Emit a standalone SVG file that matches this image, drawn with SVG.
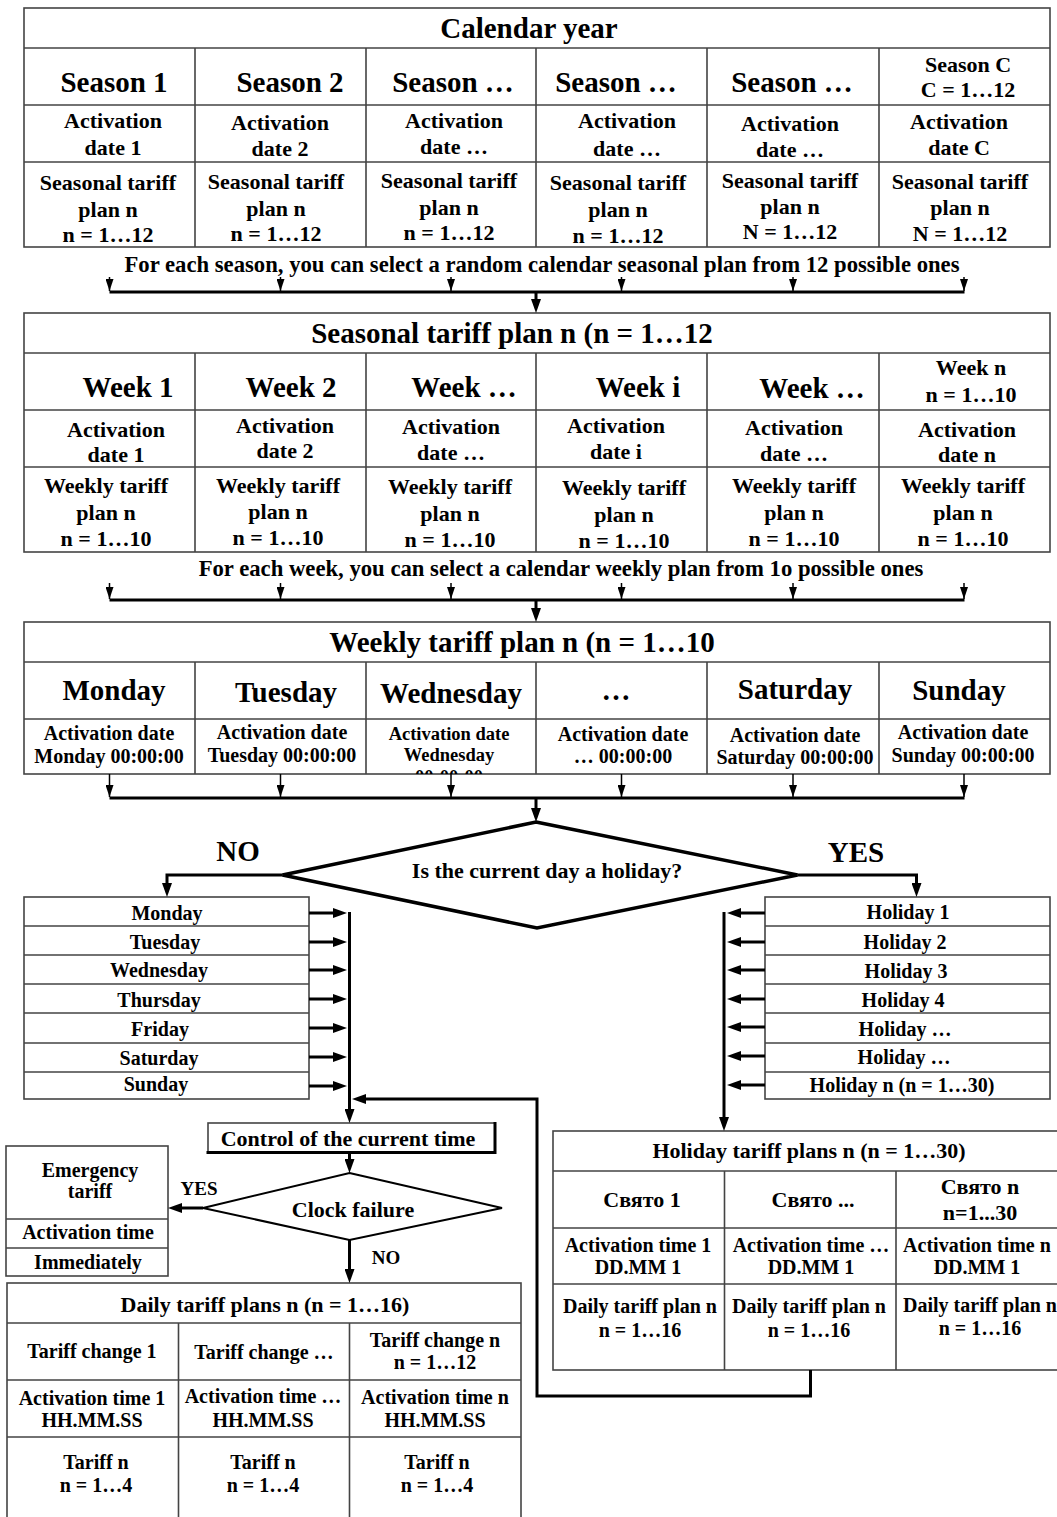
<svg xmlns="http://www.w3.org/2000/svg" width="1057" height="1517" viewBox="0 0 1057 1517">
<style>
.t{font-family:"Liberation Serif","Times New Roman",serif;font-weight:bold;fill:#000;text-anchor:middle}
.f29{font-size:29px}.f22{font-size:22px}.f227{font-size:22.7px}.f20{font-size:20px}.f19{font-size:19px}.f18{font-size:18.5px}
.box{fill:#fff;stroke:#444;stroke-width:1.6}
.ln{stroke:#444;stroke-width:1.6;fill:none}
.conn{stroke:#000;stroke-width:3;fill:none}
.thin{stroke:#000;stroke-width:1.5;fill:none}
.dia{fill:#fff;stroke:#000}
</style>
<defs>
<marker id="sm" markerUnits="userSpaceOnUse" markerWidth="12" markerHeight="8" refX="12" refY="4" orient="auto"><path d="M0,0 L12,4 L0,8 z" fill="#000"/></marker>
<marker id="lg" markerUnits="userSpaceOnUse" markerWidth="14" markerHeight="10" refX="7" refY="5" orient="auto"><path d="M0,0 L14,5 L0,10 z" fill="#000"/></marker>
<clipPath id="wedclip"><rect x="366" y="719" width="170" height="55"/></clipPath>
</defs>

<g id="calendar-year">
<rect class="box" x="24" y="8" width="1026" height="239"/>
<path class="ln" d="M24,48H1050M24,105H1050M24,162H1050M195,48V247M366,48V247M536,48V247M707,48V247M879,48V247"/>
<text class="t f29" x="529" y="38">Calendar year</text>
<text class="t f29" x="114" y="92">Season 1</text>
<text class="t f29" x="290" y="92">Season 2</text>
<text class="t f29" x="453" y="92">Season …</text>
<text class="t f29" x="616" y="92">Season …</text>
<text class="t f29" x="792" y="92">Season …</text>
<text class="t f22" x="968" y="72">Season C</text>
<text class="t f22" x="968" y="97">C = 1…12</text>
<text class="t f22" x="113" y="128">Activation</text><text class="t f22" x="113" y="155">date 1</text>
<text class="t f22" x="280" y="130">Activation</text><text class="t f22" x="280" y="156">date 2</text>
<text class="t f22" x="454" y="128">Activation</text><text class="t f22" x="454" y="154">date …</text>
<text class="t f22" x="627" y="128">Activation</text><text class="t f22" x="627" y="156">date …</text>
<text class="t f22" x="790" y="131">Activation</text><text class="t f22" x="790" y="157">date …</text>
<text class="t f22" x="959" y="129">Activation</text><text class="t f22" x="959" y="155">date C</text>
<text class="t f22" x="108" y="190">Seasonal tariff</text><text class="t f22" x="108" y="217">plan n</text><text class="t f22" x="108" y="242">n = 1…12</text>
<text class="t f22" x="276" y="189">Seasonal tariff</text><text class="t f22" x="276" y="216">plan n</text><text class="t f22" x="276" y="241">n = 1…12</text>
<text class="t f22" x="449" y="188">Seasonal tariff</text><text class="t f22" x="449" y="215">plan n</text><text class="t f22" x="449" y="240">n = 1…12</text>
<text class="t f22" x="618" y="190">Seasonal tariff</text><text class="t f22" x="618" y="217">plan n</text><text class="t f22" x="618" y="243">n = 1…12</text>
<text class="t f22" x="790" y="188">Seasonal tariff</text><text class="t f22" x="790" y="214">plan n</text><text class="t f22" x="790" y="239">N = 1…12</text>
<text class="t f22" x="960" y="189">Seasonal tariff</text><text class="t f22" x="960" y="215">plan n</text><text class="t f22" x="960" y="241">N = 1…12</text>
</g>

<g id="label-season-select">
<text class="t f227" x="542" y="272">For each season, you can select a random calendar seasonal plan from 12 possible ones</text>
</g>

<g id="seasonal-tariff-plan">
<rect class="box" x="24" y="313" width="1026" height="239"/>
<path class="ln" d="M24,353H1050M24,410H1050M24,467H1050M195,353V552M366,353V552M536,353V552M707,353V552M879,353V552"/>
<text class="t f29" x="512" y="343">Seasonal tariff plan n (n = 1…12</text>
<text class="t f29" x="128" y="397">Week 1</text>
<text class="t f29" x="291" y="397">Week 2</text>
<text class="t f29" x="464" y="397">Week …</text>
<text class="t f29" x="638" y="397">Week i</text>
<text class="t f29" x="812" y="398">Week …</text>
<text class="t f22" x="971" y="375">Week n</text>
<text class="t f22" x="971" y="402">n = 1…10</text>
<text class="t f22" x="116" y="437">Activation</text><text class="t f22" x="116" y="462">date 1</text>
<text class="t f22" x="285" y="433">Activation</text><text class="t f22" x="285" y="458">date 2</text>
<text class="t f22" x="451" y="434">Activation</text><text class="t f22" x="451" y="460">date …</text>
<text class="t f22" x="616" y="433">Activation</text><text class="t f22" x="616" y="459">date i</text>
<text class="t f22" x="794" y="435">Activation</text><text class="t f22" x="794" y="461">date …</text>
<text class="t f22" x="967" y="437">Activation</text><text class="t f22" x="967" y="462">date n</text>
<text class="t f22" x="106" y="493">Weekly tariff</text><text class="t f22" x="106" y="520">plan n</text><text class="t f22" x="106" y="546">n = 1…10</text>
<text class="t f22" x="278" y="493">Weekly tariff</text><text class="t f22" x="278" y="519">plan n</text><text class="t f22" x="278" y="545">n = 1…10</text>
<text class="t f22" x="450" y="494">Weekly tariff</text><text class="t f22" x="450" y="521">plan n</text><text class="t f22" x="450" y="547">n = 1…10</text>
<text class="t f22" x="624" y="495">Weekly tariff</text><text class="t f22" x="624" y="522">plan n</text><text class="t f22" x="624" y="548">n = 1…10</text>
<text class="t f22" x="794" y="493">Weekly tariff</text><text class="t f22" x="794" y="520">plan n</text><text class="t f22" x="794" y="546">n = 1…10</text>
<text class="t f22" x="963" y="493">Weekly tariff</text><text class="t f22" x="963" y="520">plan n</text><text class="t f22" x="963" y="546">n = 1…10</text>
</g>

<g id="label-week-select">
<text class="t f227" x="561" y="576">For each week, you can select a calendar weekly plan from 1o possible ones</text>
</g>

<g id="weekly-tariff-plan">
<rect class="box" x="24" y="622" width="1026" height="152"/>
<path class="ln" d="M24,662H1050M24,719H1050M195,662V774M366,662V774M536,662V774M707,662V774M879,662V774"/>
<text class="t f29" x="522" y="652">Weekly tariff plan n (n = 1…10</text>
<text class="t f29" x="114" y="700">Monday</text>
<text class="t f29" x="286" y="702">Tuesday</text>
<text class="t f29" x="451" y="703">Wednesday</text>
<text class="t f29" x="616" y="700">…</text>
<text class="t f29" x="795" y="699">Saturday</text>
<text class="t f29" x="959" y="700">Sunday</text>
<text class="t f20" x="109" y="740">Activation date</text><text class="t f20" x="109" y="763">Monday 00:00:00</text>
<text class="t f20" x="282" y="739">Activation date</text><text class="t f20" x="282" y="762">Tuesday 00:00:00</text>
<g clip-path="url(#wedclip)"><text class="t f18" x="449" y="740">Activation date</text><text class="t f18" x="449" y="761">Wednesday</text><text class="t f18" x="449" y="783">00:00:00</text></g>
<text class="t f20" x="623" y="741">Activation date</text><text class="t f20" x="623" y="763">… 00:00:00</text>
<text class="t f20" x="795" y="742">Activation date</text><text class="t f20" x="795" y="764">Saturday 00:00:00</text>
<text class="t f20" x="963" y="739">Activation date</text><text class="t f20" x="963" y="762">Sunday 00:00:00</text>
</g>

<g id="holiday-decision">
<polygon class="dia" stroke-width="3.5" points="536,822 797.5,875 537,928 282.5,875"/>
<text class="t f22" x="547" y="878">Is the current day a holiday?</text>
</g>
<g id="label-no"><text class="t f29" x="238" y="861">NO</text></g>
<g id="label-yes"><text class="t f29" x="856" y="862">YES</text></g>

<g id="weekday-list">
<rect class="box" x="24" y="897" width="285" height="202"/>
<path class="ln" d="M24,926H309M24,955H309M24,984H309M24,1013H309M24,1043H309M24,1072H309"/>
<text class="t f20" x="167" y="920">Monday</text>
<text class="t f20" x="165" y="949">Tuesday</text>
<text class="t f20" x="159" y="977">Wednesday</text>
<text class="t f20" x="159" y="1007">Thursday</text>
<text class="t f20" x="160" y="1036">Friday</text>
<text class="t f20" x="159" y="1065">Saturday</text>
<text class="t f20" x="156" y="1091">Sunday</text>
</g>

<g id="holiday-list">
<rect class="box" x="765" y="897" width="285" height="202"/>
<path class="ln" d="M765,926H1050M765,955H1050M765,984H1050M765,1013H1050M765,1043H1050M765,1072H1050"/>
<text class="t f20" x="908" y="919">Holiday 1</text>
<text class="t f20" x="905" y="949">Holiday 2</text>
<text class="t f20" x="906" y="978">Holiday 3</text>
<text class="t f20" x="903" y="1007">Holiday 4</text>
<text class="t f20" x="905" y="1036">Holiday …</text>
<text class="t f20" x="904" y="1064">Holiday …</text>
<text class="t f20" x="902" y="1092">Holiday n (n = 1…30)</text>
</g>

<g id="control-time">
<rect class="box" x="208" y="1123" width="287" height="29"/>
<path d="M495,1122V1153.5M206.5,1152.5H496.5" stroke="#000" stroke-width="3" fill="none"/>
<text class="t f22" x="348" y="1146">Control of the current time</text>
</g>

<g id="clock-failure">
<polygon class="dia" stroke-width="2" points="349.5,1173 502,1208 349.5,1240 203,1208"/>
<text class="t f22" x="353" y="1217">Clock failure</text>
</g>
<g id="label-yes-2"><text class="t f19" x="199" y="1195">YES</text></g>
<g id="label-no-2"><text class="t f19" x="386" y="1264">NO</text></g>

<g id="emergency-tariff">
<rect class="box" x="6" y="1146" width="162" height="130"/>
<path class="ln" d="M6,1219H168M6,1248H168"/>
<text class="t f20" x="90" y="1177">Emergency</text>
<text class="t f20" x="90" y="1198">tariff</text>
<text class="t f20" x="88" y="1239">Activation time</text>
<text class="t f20" x="88" y="1269">Immediately</text>
</g>

<g id="daily-tariff-plans">
<rect class="box" x="7" y="1283" width="514" height="245"/>
<path class="ln" d="M7,1323H521M7,1380H521M7,1437H521M178.5,1323V1528M349.5,1323V1528"/>
<text class="t f22" x="265" y="1312">Daily tariff plans n (n = 1…16)</text>
<text class="t f20" x="92" y="1358">Tariff change 1</text>
<text class="t f20" x="264" y="1359">Tariff change …</text>
<text class="t f20" x="435" y="1347">Tariff change n</text><text class="t f20" x="435" y="1369">n = 1…12</text>
<text class="t f20" x="92" y="1405">Activation time 1</text><text class="t f20" x="92" y="1427">HH.MM.SS</text>
<text class="t f20" x="263" y="1403">Activation time …</text><text class="t f20" x="263" y="1427">HH.MM.SS</text>
<text class="t f20" x="435" y="1404">Activation time n</text><text class="t f20" x="435" y="1427">HH.MM.SS</text>
<text class="t f20" x="96" y="1469">Tariff n</text><text class="t f20" x="96" y="1492">n = 1…4</text>
<text class="t f20" x="263" y="1469">Tariff n</text><text class="t f20" x="263" y="1492">n = 1…4</text>
<text class="t f20" x="437" y="1469">Tariff n</text><text class="t f20" x="437" y="1492">n = 1…4</text>
</g>

<g id="holiday-tariff-plans">
<rect class="box" x="553" y="1131" width="520" height="239"/>
<path class="ln" d="M553,1171H1073M553,1228H1073M553,1284H1073M724.5,1171V1370M896,1171V1370"/>
<text class="t f22" x="809" y="1158">Holiday tariff plans n (n = 1…30)</text>
<text class="t f22" x="642" y="1207">Свято 1</text>
<text class="t f22" x="813" y="1207">Свято ...</text>
<text class="t f22" x="980" y="1194">Свято n</text><text class="t f22" x="980" y="1220">n=1...30</text>
<text class="t f20" x="638" y="1252">Activation time 1</text><text class="t f20" x="638" y="1274">DD.MM 1</text>
<text class="t f20" x="811" y="1252">Activation time …</text><text class="t f20" x="811" y="1274">DD.MM 1</text>
<text class="t f20" x="977" y="1252">Activation time n</text><text class="t f20" x="977" y="1274">DD.MM 1</text>
<text class="t f20" x="640" y="1313">Daily tariff plan n</text><text class="t f20" x="640" y="1337">n = 1…16</text>
<text class="t f20" x="809" y="1313">Daily tariff plan n</text><text class="t f20" x="809" y="1337">n = 1…16</text>
<text class="t f20" x="980" y="1312">Daily tariff plan n</text><text class="t f20" x="980" y="1335">n = 1…16</text>
</g>

<g id="connectors">
<path class="conn" d="M109.5,292H964.5"/>
<path class="thin" marker-end="url(#sm)" d="M109.5,277V291"/>
<path class="thin" marker-end="url(#sm)" d="M280.5,277V291"/>
<path class="thin" marker-end="url(#sm)" d="M451,277V291"/>
<path class="thin" marker-end="url(#sm)" d="M621.5,277V291"/>
<path class="thin" marker-end="url(#sm)" d="M793,277V291"/>
<path class="thin" marker-end="url(#sm)" d="M964,277V291"/>
<path class="conn" marker-end="url(#lg)" d="M536,292V306"/>
<path class="conn" d="M109.5,600H964.5"/>
<path class="thin" marker-end="url(#sm)" d="M109.5,583V599"/>
<path class="thin" marker-end="url(#sm)" d="M280.5,583V599"/>
<path class="thin" marker-end="url(#sm)" d="M451,583V599"/>
<path class="thin" marker-end="url(#sm)" d="M621.5,583V599"/>
<path class="thin" marker-end="url(#sm)" d="M793,583V599"/>
<path class="thin" marker-end="url(#sm)" d="M964,583V599"/>
<path class="conn" marker-end="url(#lg)" d="M536,600V615"/>
<path class="conn" d="M109.5,798H964.5"/>
<path class="thin" marker-end="url(#sm)" d="M109.5,774V797"/>
<path class="thin" marker-end="url(#sm)" d="M280.5,774V797"/>
<path class="thin" marker-end="url(#sm)" d="M451,774V797"/>
<path class="thin" marker-end="url(#sm)" d="M621.5,774V797"/>
<path class="thin" marker-end="url(#sm)" d="M793,774V797"/>
<path class="thin" marker-end="url(#sm)" d="M964,774V797"/>
<path class="conn" marker-end="url(#lg)" d="M536,798V815"/>
<path class="conn" marker-end="url(#lg)" d="M282.5,875H167V890"/>
<path class="conn" marker-end="url(#lg)" d="M797.5,875H916.5V890"/>
<path class="conn" marker-end="url(#lg)" d="M309,913H340"/>
<path class="conn" marker-end="url(#lg)" d="M309,942H340"/>
<path class="conn" marker-end="url(#lg)" d="M309,970H340"/>
<path class="conn" marker-end="url(#lg)" d="M309,999H340"/>
<path class="conn" marker-end="url(#lg)" d="M309,1028H340"/>
<path class="conn" marker-end="url(#lg)" d="M309,1057H340"/>
<path class="conn" marker-end="url(#lg)" d="M309,1086H340"/>
<path class="conn" marker-end="url(#lg)" d="M349.5,912V1116"/>
<path class="conn" marker-end="url(#lg)" d="M765,913H734"/>
<path class="conn" marker-end="url(#lg)" d="M765,942H734"/>
<path class="conn" marker-end="url(#lg)" d="M765,970H734"/>
<path class="conn" marker-end="url(#lg)" d="M765,999H734"/>
<path class="conn" marker-end="url(#lg)" d="M765,1027H734"/>
<path class="conn" marker-end="url(#lg)" d="M765,1056H734"/>
<path class="conn" marker-end="url(#lg)" d="M765,1085H734"/>
<path class="conn" marker-end="url(#lg)" d="M724,912V1124"/>
<path class="conn" marker-end="url(#lg)" d="M810.5,1370V1396H537V1099H359"/>
<path class="conn" marker-end="url(#lg)" d="M349.5,1152V1166"/>
<path class="conn" marker-end="url(#lg)" d="M203,1208H175"/>
<path class="conn" marker-end="url(#lg)" d="M349.5,1240V1276"/>
</g>
</svg>
